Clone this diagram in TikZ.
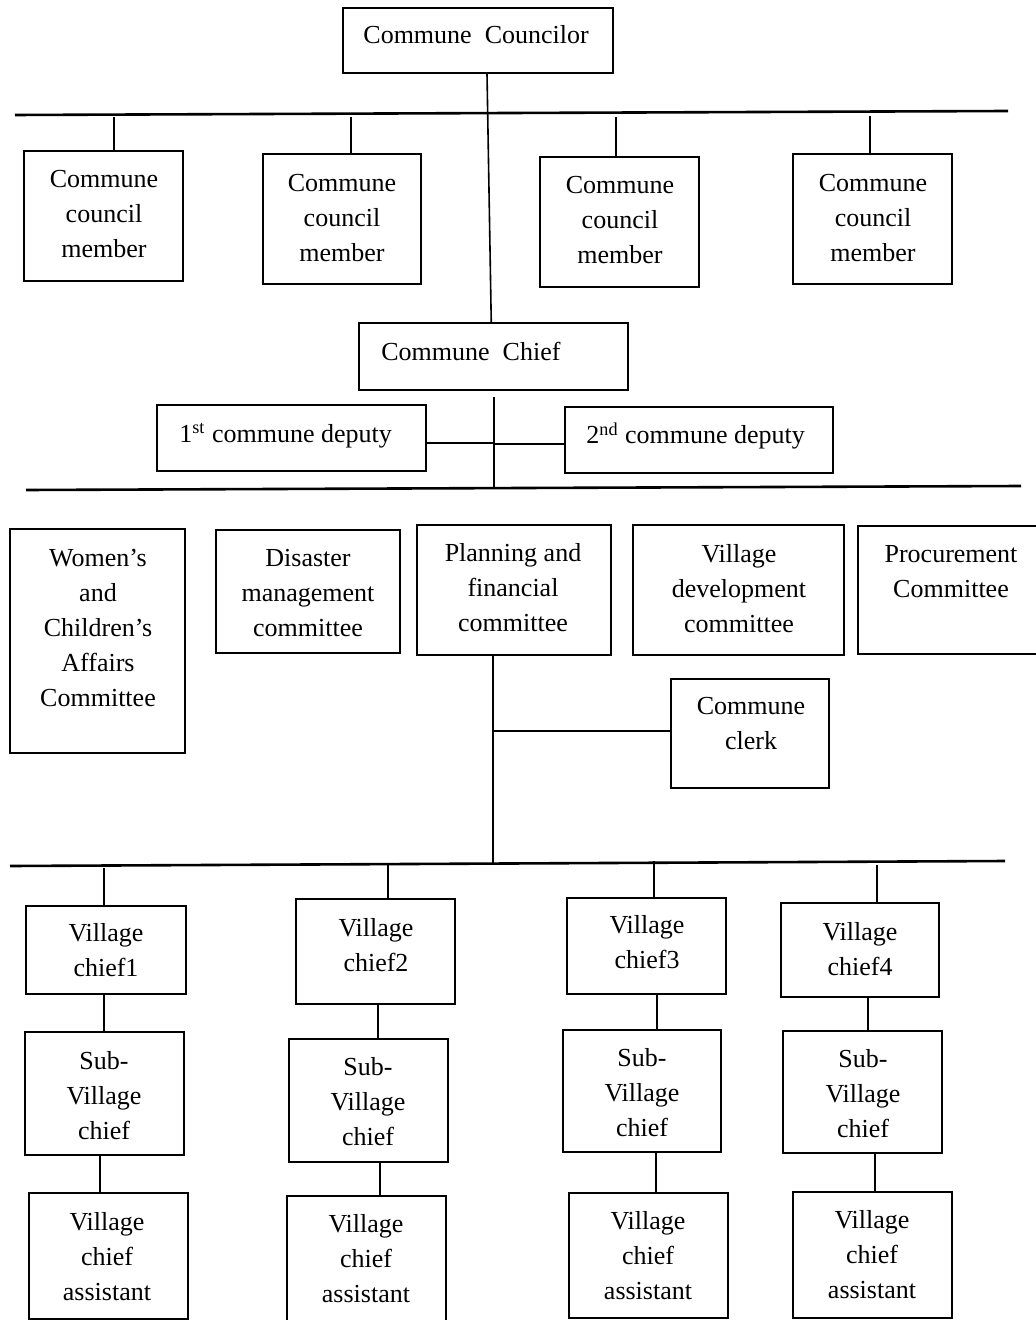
\documentclass[tikz,border=0pt]{standalone}
\usepackage{fontspec}
\setmainfont{Liberation Serif}
\usetikzlibrary{fit}
\newcommand\mystub[3]{\coordinate (tmpx) at (#1,0);\draw[conn] (#2 -| tmpx) -- (#3 -| tmpx);}
\begin{document}
\begin{tikzpicture}[x=0.5pt,y=-0.5pt,
  box/.style={draw, line width=1pt, inner sep=0pt, rectangle},
  txt/.style={align=center, font=\fontsize{13}{17.5}\selectfont, inner sep=0pt},
  conn/.style={line width=0.8pt},
  bar/.style={line width=1.3pt}]
\useasboundingbox (0,0) rectangle (1035,1320);

% ---- top ----
\node[box, fit={(343,8) (613,73)}] (councilor) {};
\node[txt, anchor=base west] (councilor-t) at (363,44) {Commune\ \ Councilor};

\coordinate (b1a) at (15,115);
\coordinate (b1b) at (1008,111);
\draw[bar] (b1a) -- (b1b);

% members
\node[box, fit={(24,151) (183,281)}] (m1) {};
\node[txt] (m1-t) at (104,214) {Commune\\council\\member};
\node[box, fit={(263,154) (421,284)}] (m2) {};
\node[txt] (m2-t) at (342,218) {Commune\\council\\member};
\node[box, fit={(540,157) (699,287)}] (m3) {};
\node[txt] (m3-t) at (620,220) {Commune\\council\\member};
\node[box, fit={(793,154) (952,284)}] (m4) {};
\node[txt] (m4-t) at (873,218) {Commune\\council\\member};

\coordinate (s1) at (114,117); \draw[conn] (s1) -- (s1 |- m1.north);
\coordinate (s2) at (351,117); \draw[conn] (s2) -- (s2 |- m2.north);
\coordinate (s3) at (616,117); \draw[conn] (s3) -- (s3 |- m3.north);
\coordinate (s4) at (870,116); \draw[conn] (s4) -- (s4 |- m4.north);

% chief
\node[box, fit={(358.5,323) (628,390)}] (chief) {};
\node[txt, anchor=base west] (chief-t) at (381,361) {Commune\ \ Chief};
\draw[conn] ([xshift=4.5pt]councilor.south) -- ([xshift=-1pt]chief.north);

% deputies
\node[box, fit={(157,405) (426,471)}] (d1) {};
\node[txt, anchor=base west] (d1-t) at (179,442) {1\textsuperscript{st} commune deputy};
\node[box, fit={(564.5,407) (833,473)}] (d2) {};
\node[txt, anchor=base west] (d2-t) at (586,444) {2\textsuperscript{nd} commune deputy};

\coordinate (v2top) at (494,397);
\coordinate (v2bot) at (494,488);
\draw[conn] (v2top) -- (v2bot);
\coordinate (j1) at (494,443);
\coordinate (j2) at (494,444);
\draw[conn] ([yshift=-2.5pt]d1.east) -- (j1);
\draw[conn] (j2) -- ([yshift=-2pt]d2.west);

\coordinate (b2a) at (26,490);
\coordinate (b2b) at (1021,486);
\draw[bar] (b2a) -- (b2b);

% committees
\node[box, fit={(10,529) (185,753)}] (wc) {};
\node[txt] (wc-t) at (98,628) {Women’s\\and\\Children’s\\Affairs\\Committee};
\node[box, fit={(216,530) (400,653)}] (dm) {};
\node[txt] (dm-t) at (308,593) {Disaster\\management\\committee};
\node[box, fit={(417,525) (611,655)}] (pf) {};
\node[txt] (pf-t) at (513,588) {Planning and\\financial\\committee};
\node[box, fit={(633,525) (844,655)}] (vd) {};
\node[txt] (vd-t) at (739,589) {Village\\development\\committee};
\node[box, fit={(858,526) (1045,654)}] (pc) {};
\node[txt] (pc-t) at (951,572) {Procurement\\Committee};
\node[box, fit={(671,679) (829,788)}] (clerk) {};
\node[txt] (clerk-t) at (751,724) {Commune\\clerk};

\coordinate (v3bot) at (493,863);
\draw[conn] (v3bot |- pf.south) -- (v3bot);
\coordinate (j3) at (493,731);
\draw[conn] (j3) -- (j3 -| clerk.west);

\coordinate (b3a) at (10,866);
\coordinate (b3b) at (1005,861);
\draw[bar] (b3a) -- (b3b);

% villages
\node[box, fit={(26,906) (185.5,994)}] (vc1) {};
\node[txt] (vc1-t) at (106,950) {Village\\chief1};
\node[box, fit={(296,899) (455,1004)}] (vc2) {};
\node[txt] (vc2-t) at (376,945) {Village\\chief2};
\node[box, fit={(566.5,898) (725.5,994)}] (vc3) {};
\node[txt] (vc3-t) at (647,942) {Village\\chief3};
\node[box, fit={(780.5,903) (939,997)}] (vc4) {};
\node[txt] (vc4-t) at (860,949) {Village\\chief4};

\coordinate (t1) at (104,868); \draw[conn] (t1) -- (t1 |- vc1.north);
\coordinate (t2) at (388,865); \draw[conn] (t2) -- (t2 |- vc2.north);
\coordinate (t3) at (654,861); \draw[conn] (t3) -- (t3 |- vc3.north);
\coordinate (t4) at (877,865); \draw[conn] (t4) -- (t4 |- vc4.north);

\node[box, fit={(25,1032) (184,1155)}] (sv1) {};
\node[txt] (sv1-t) at (104,1096) {Sub-\\Village\\chief};
\node[box, fit={(289,1039) (448,1162)}] (sv2) {};
\node[txt] (sv2-t) at (368,1102) {Sub-\\Village\\chief};
\node[box, fit={(562.5,1030) (721,1152)}] (sv3) {};
\node[txt] (sv3-t) at (642,1093) {Sub-\\Village\\chief};
\node[box, fit={(783,1031) (941.5,1153)}] (sv4) {};
\node[txt] (sv4-t) at (863,1094) {Sub-\\Village\\chief};

\mystub{104}{vc1.south}{sv1.north}
\mystub{378}{vc2.south}{sv2.north}
\mystub{657}{vc3.south}{sv3.north}
\mystub{868}{vc4.south}{sv4.north}

\node[box, fit={(29,1193) (188,1319)}] (va1) {};
\node[txt] (va1-t) at (107,1257) {Village\\chief\\assistant};
\node[box, fit={(287,1196) (446,1321)}] (va2) {};
\node[txt] (va2-t) at (366,1259) {Village\\chief\\assistant};
\node[box, fit={(569,1193) (728,1318)}] (va3) {};
\node[txt] (va3-t) at (648,1256) {Village\\chief\\assistant};
\node[box, fit={(793,1192) (952,1318)}] (va4) {};
\node[txt] (va4-t) at (872,1255) {Village\\chief\\assistant};

\mystub{100}{sv1.south}{va1.north}
\mystub{380}{sv2.south}{va2.north}
\mystub{656}{sv3.south}{va3.north}
\mystub{875}{sv4.south}{va4.north}
\end{tikzpicture}
\end{document}
